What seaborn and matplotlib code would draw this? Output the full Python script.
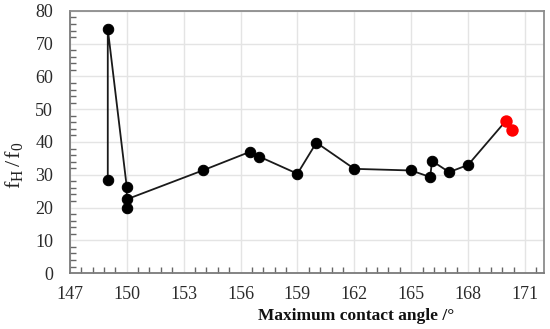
import matplotlib
matplotlib.use("Agg")
import matplotlib.pyplot as plt
import seaborn as sns
import pandas as pd
from matplotlib.ticker import MultipleLocator

# measured points, in drawing order of the connecting line
angle = [149, 149, 150, 150, 150, 154, 156.5, 157, 159, 160, 162, 165, 166, 166.1, 167, 168]
ratio = [28.3, 74.5, 26.3, 20.0, 22.5, 31.3, 37.0, 35.5, 30.3, 39.8, 31.8, 31.3, 29.3, 34.2, 30.8, 33.0]

# highlighted points (red)
angle_red = [170.0, 170.3]
ratio_red = [46.5, 43.8]

x_ticks = [147, 150, 153, 156, 159, 162, 165, 168, 171]
y_ticks = [0, 10, 20, 30, 40, 50, 60, 70, 80]

sns.set_style("white")
plt.rcParams["font.family"] = ["Liberation Serif", "DejaVu Serif"]
plt.rcParams["mathtext.fontset"] = "custom"
plt.rcParams["mathtext.rm"] = "Liberation Serif"
plt.rcParams["mathtext.it"] = "Liberation Serif:italic"

df = pd.DataFrame({"angle": angle, "ratio": ratio})
df_red = pd.DataFrame({"angle": angle_red, "ratio": ratio_red})
# the line continues from the last black point to the first red one
df_link = pd.DataFrame({"angle": [angle[-1], angle_red[0]], "ratio": [ratio[-1], ratio_red[0]]})

fig = plt.figure(figsize=(5.5, 3.29), dpi=100)
ax = fig.add_axes([0.127, 0.170, 0.862, 0.797])

sns.lineplot(data=df_link, x="angle", y="ratio", sort=False, estimator=None,
             color="#1a1a1a", linewidth=1.3, ax=ax, zorder=2)
sns.lineplot(data=df, x="angle", y="ratio", sort=False, estimator=None,
             color="#1a1a1a", linewidth=1.3, marker="o", markersize=7.5,
             markeredgecolor="black", markerfacecolor="black", ax=ax, zorder=3)
sns.scatterplot(data=df_red, x="angle", y="ratio", color="#ff0000", s=80,
                edgecolor="#ff0000", linewidth=0, ax=ax, zorder=4)

ax.set_xlim(147, 172)
ax.set_ylim(0, 80)
ax.set_xticks(x_ticks)
ax.set_yticks(y_ticks)
ax.xaxis.set_minor_locator(MultipleLocator(0.6))
ax.yaxis.set_minor_locator(MultipleLocator(2))

ax.grid(True, which="major", color="#e4e4e4", linewidth=1.0)
ax.set_axisbelow(True)

for side in ["top", "right"]:
    ax.spines[side].set_color("#8c8c8c")
    ax.spines[side].set_linewidth(1.3)
for side in ["left", "bottom"]:
    ax.spines[side].set_color("#7a7a7a")
    ax.spines[side].set_linewidth(1.3)

ax.tick_params(axis="both", which="major", direction="in", length=0,
               labelsize=13, colors="#222222", labelcolor="#2a2a2a")
ax.tick_params(axis="x", which="major", pad=9)
ax.tick_params(axis="y", which="major", pad=12)
ax.tick_params(axis="both", which="minor", direction="in", length=4,
               width=1.0, color="#666666")
ax.tick_params(axis="x", which="minor", bottom=True)
ax.tick_params(axis="y", which="minor", left=True)

ax.set_xlabel("Maximum contact angle /°", fontsize=12.5, fontweight="bold",
              color="#111111", va="center")
ax.xaxis.set_label_coords(0.604, -0.162)
ax.set_ylabel(r"$\mathregular{f_H\,/\,f_0}$", fontsize=16, color="#222222")
ax.yaxis.set_label_coords(-0.095, 0.41)

fig.savefig("out.png", dpi=100)
